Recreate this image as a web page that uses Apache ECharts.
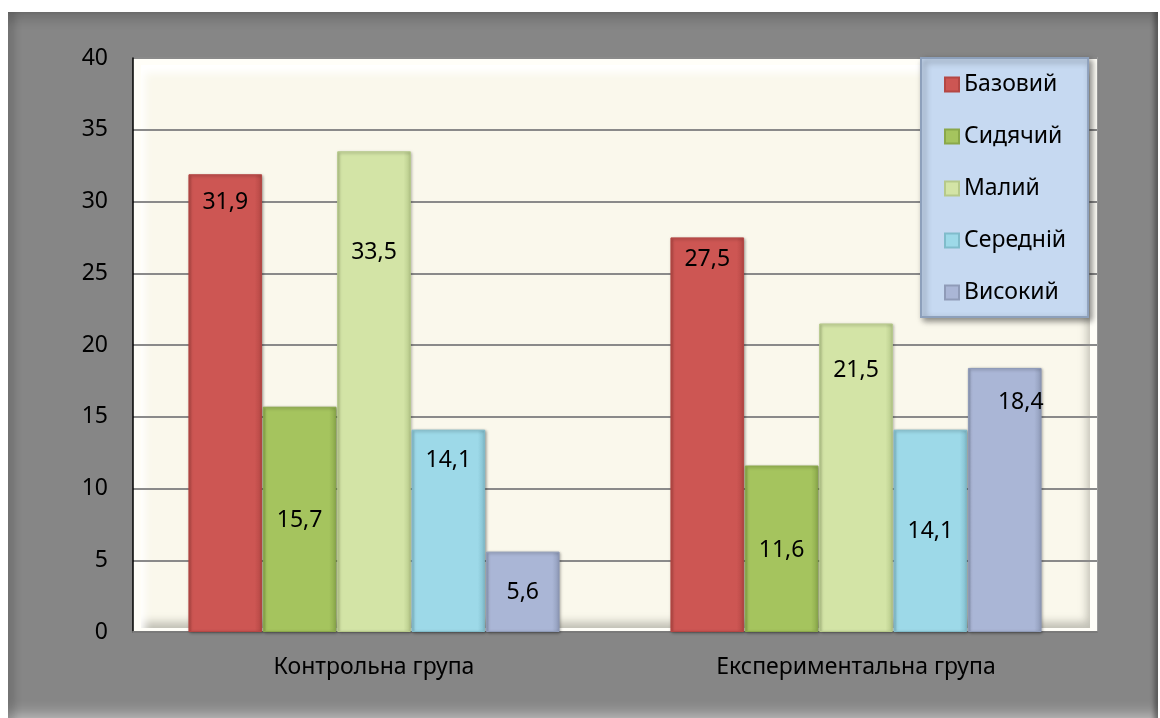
<!DOCTYPE html>
<html>
<head>
<meta charset="utf-8">
<script src="https://cdn.jsdelivr.net/npm/echarts@6/dist/echarts.min.js"></script>
<style>
    html, body { margin: 0; padding: 0; background: #fff; }
    body { width: 1160px; height: 718px; position: relative; overflow: hidden; }
    .frame {
        position: absolute; left: 8px; top: 12px; width: 1150px; height: 720px;
        background: #868686;
        box-shadow: inset 8px 0 8px -2px rgba(0,0,0,0.18), inset 0 16px 10px -6px rgba(0,0,0,0.12),
                    inset -6px 0 4px -2px rgba(0,0,0,0.35), inset 0 -26px 16px -10px rgba(255,255,255,0.55);
    }
    .plot {
        position: absolute; left: 133px; top: 57px; width: 964px; height: 575px;
        background: #fffef8; border-right: 1px solid #9a9a9a;
    }
    .plot .inner {
        position: absolute; left: 8px; top: 8px; right: 7px; bottom: 4px;
        background: #faf8ec;
        box-shadow: inset 8px 12px 8px -4px #ffffff, inset -7px -10px 8px -4px rgba(90,90,80,0.35);
    }
    .bazovyiChart { position: absolute; left: 0; top: 0; width: 1160px; height: 718px; }
</style>
</head>
<body>
<div class="frame"></div>
<div class="plot"><div class="inner"></div></div>
<div class="bazovyiChart"></div>
<script>
    // дані
    const categories = ['Контрольна група', 'Експериментальна група'];
    const seriesNames = ['Базовий', 'Сидячий', 'Малий', 'Середній', 'Високий'];
    const bazovyi = [31.9, 27.5];
    const sydiachyi = [15.7, 11.6];
    const malyi = [33.5, 21.5];
    const seredniy = [14.1, 14.1];
    const vysokyi = [5.6, 18.4];
    const yMin = 0, yMax = 40, yStep = 5;

    // оформлення
    const barColors = [
        ['#d6625e', '#cd5653', '#b44744'],
        ['#adc968', '#a5c45e', '#8aa84a'],
        ['#dbe9b2', '#d3e4a6', '#b6c98a'],
        ['#a8def0', '#9dd9e8', '#80bccb'],
        ['#bcc8e8', '#aab6d6', '#8f9bb8']
    ];
    // зміщення підписів від верху стовпця (центр тексту), px
    const labelDrop = [[28, 22], [114, 85], [101, 47], [31, 102], [41, 34]];
    const labelShiftX = [[0, 0], [0, 0], [0, 0], [0, 0], [0, 16]];

    const fontFamily = "'Noto Sans', sans-serif";
    const fontSize = 23;
    const allValues = [bazovyi, sydiachyi, malyi, seredniy, vysokyi];

    const seriesList = [];
    allValues.forEach(function (values, k) {
        const c = barColors[k];
        seriesList.push({
            type: 'bar',
            name: seriesNames[k],
            barGap: '1%',
            barCategoryGap: '23%',
            data: values.map(function (v, i) {
                return {
                    value: v,
                    label: {
                        distance: labelDrop[k][i] - fontSize / 2,
                        offset: [labelShiftX[k][i], 0]
                    }
                };
            }),
            itemStyle: {
                color: {
                    type: 'linear', x: 0, y: 0, x2: 1, y2: 0,
                    colorStops: [
                        {offset: 0, color: c[2]},
                        {offset: 0.05, color: c[1]},
                        {offset: 0.9, color: c[1]},
                        {offset: 1, color: c[2]}
                    ]
                },
                borderColor: c[2],
                borderWidth: 1,
                shadowColor: 'rgba(0,0,0,0.35)',
                shadowBlur: 3,
                shadowOffsetX: 1,
                shadowOffsetY: 1
            },
            label: {
                show: true,
                position: 'insideTop',
                color: '#000',
                fontSize: fontSize,
                fontFamily: fontFamily,
                formatter: function (p) {
                    return String(p.value).replace('.', ',');
                }
            },
            emphasis: { disabled: true }
        });
    });

    let chart = echarts.init(document.querySelector('.bazovyiChart'), null, {renderer: 'canvas'});
    const option = {
        animation: false,
        backgroundColor: 'transparent',
        color: barColors.map(function (c) { return c[1]; }),
        grid: { left: 133, top: 58, right: 63, bottom: 86 },
        legend: {
            orient: 'vertical',
            left: 921,
            top: 58,
            padding: [15, 22, 13, 23],
            itemWidth: 14,
            itemHeight: 14,
            itemGap: 29,
            icon: 'rect',
            backgroundColor: '#c6d9f1',
            borderColor: '#8da0bb',
            borderWidth: 2,
            shadowColor: 'rgba(0,0,0,0.45)',
            shadowBlur: 6,
            shadowOffsetX: 3,
            shadowOffsetY: 3,
            textStyle: { fontSize: fontSize, lineHeight: 23, color: '#000', fontFamily: fontFamily },
            data: seriesNames
        },
        xAxis: {
            type: 'category',
            data: categories,
            axisTick: { show: false },
            axisLine: { lineStyle: { color: '#7a7a7a', width: 2 } },
            axisLabel: { color: '#000', fontSize: fontSize, margin: 24, fontFamily: fontFamily }
        },
        yAxis: {
            type: 'value',
            min: yMin,
            max: yMax,
            interval: yStep,
            axisLine: { show: true, lineStyle: { color: '#000', width: 1.5 } },
            axisTick: { show: false },
            axisLabel: { color: '#000', fontSize: fontSize, margin: 25, fontFamily: fontFamily },
            splitLine: { lineStyle: { color: '#8a8a8a', width: 2 } }
        },
        series: seriesList
    };
    chart.setOption(option);
</script>
</body>
</html>
